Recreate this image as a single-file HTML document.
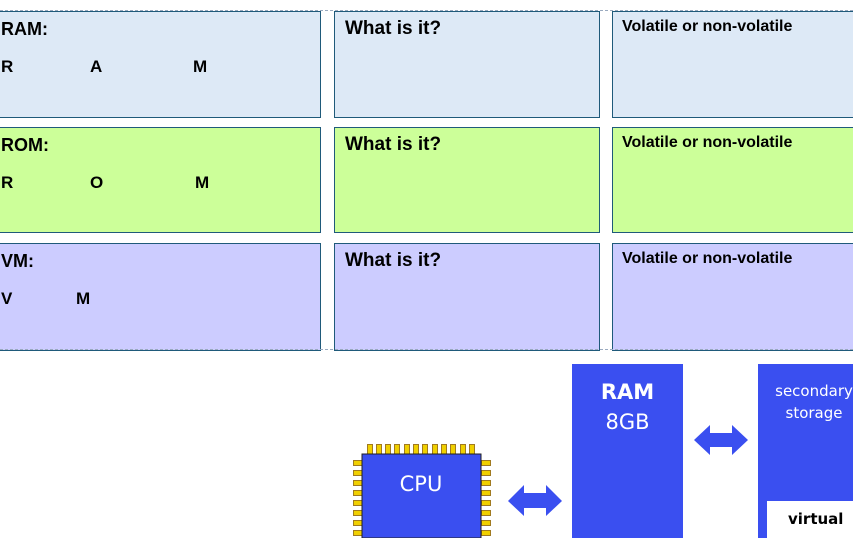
<!DOCTYPE html>
<html><head><meta charset="utf-8"><style>
html,body{margin:0;padding:0;width:853px;height:538px;overflow:hidden;background:#fff;position:relative;font-family:"Liberation Sans",sans-serif}
.b{position:absolute;box-sizing:border-box;border:1.5px solid #1f5a7a}
.t{position:absolute;font-weight:bold;color:#000;white-space:nowrap}
.blue{background:#dde9f6}.green{background:#ccff99}.lav{background:#ccccff}
.dash{position:absolute;left:0;width:853px;border-top:1.5px dashed #9aaabf}
.blk{position:absolute;background:#3a4ff0}
.w{position:absolute;color:#fff;text-align:center;font-family:"DejaVu Sans","Liberation Sans",sans-serif}
</style></head><body>
<div class="b blue" style="left:-2px;top:11px;width:323px;height:107px"></div>
<div class="b blue" style="left:334px;top:11px;width:266px;height:107px"></div>
<div class="b blue" style="left:612px;top:11px;width:250px;height:107px"></div>
<div class="b green" style="left:-2px;top:127px;width:323px;height:106px"></div>
<div class="b green" style="left:334px;top:127px;width:266px;height:106px"></div>
<div class="b green" style="left:612px;top:127px;width:250px;height:106px"></div>
<div class="b lav" style="left:-2px;top:243px;width:323px;height:108px"></div>
<div class="b lav" style="left:334px;top:243px;width:266px;height:108px"></div>
<div class="b lav" style="left:612px;top:243px;width:250px;height:108px"></div>
<div class="dash" style="top:10px"></div>
<div class="dash" style="top:349px"></div>

<div class="t" style="left:1px;top:19px;font-size:18px">RAM:</div>
<div class="t" style="left:1px;top:57px;font-size:17px">R</div>
<div class="t" style="left:90px;top:57px;font-size:17px">A</div>
<div class="t" style="left:193px;top:57px;font-size:17px">M</div>
<div class="t" style="left:1px;top:135px;font-size:18px">ROM:</div>
<div class="t" style="left:1px;top:173px;font-size:17px">R</div>
<div class="t" style="left:90px;top:173px;font-size:17px">O</div>
<div class="t" style="left:195px;top:173px;font-size:17px">M</div>
<div class="t" style="left:1px;top:251px;font-size:18px">VM:</div>
<div class="t" style="left:1px;top:289px;font-size:17px">V</div>
<div class="t" style="left:76px;top:289px;font-size:17px">M</div>

<div class="t" style="left:345px;top:18px;font-size:19px">What is it?</div>
<div class="t" style="left:345px;top:134px;font-size:19px">What is it?</div>
<div class="t" style="left:345px;top:250px;font-size:19px">What is it?</div>
<div class="t" style="left:622px;top:18px;font-size:16px">Volatile or non-volatile</div>
<div class="t" style="left:622px;top:134px;font-size:16px">Volatile or non-volatile</div>
<div class="t" style="left:622px;top:250px;font-size:16px">Volatile or non-volatile</div>

<div class="blk" style="left:572px;top:364px;width:111px;height:174px"></div>
<div class="w" style="left:572px;top:380px;width:111px;font-size:21px;font-weight:bold">RAM</div>
<div class="w" style="left:572px;top:410px;width:111px;font-size:21px">8GB</div>
<div class="blk" style="left:758px;top:364px;width:95px;height:174px"></div>
<div class="w" style="left:764px;top:380px;width:100px;font-size:15px;line-height:22px">secondary<br>storage</div>
<div style="position:absolute;left:767px;top:501px;width:86px;height:37px;background:#fff"></div>
<div class="t" style="left:788px;top:510px;font-size:15px;font-family:'DejaVu Sans',sans-serif">virtual</div>

<svg style="position:absolute;left:0;top:0" width="853" height="538">
<g fill="#f0d000" stroke="#a07a20" stroke-width="1">
<rect x="367.5" y="444.5" width="5" height="10"/><rect x="376.5" y="444.5" width="5" height="10"/><rect x="385.5" y="444.5" width="5" height="10"/><rect x="394.5" y="444.5" width="5" height="10"/><rect x="404.5" y="444.5" width="5" height="10"/><rect x="413.5" y="444.5" width="5" height="10"/><rect x="422.5" y="444.5" width="5" height="10"/><rect x="432.5" y="444.5" width="5" height="10"/><rect x="441.5" y="444.5" width="5" height="10"/><rect x="450.5" y="444.5" width="5" height="10"/><rect x="460.5" y="444.5" width="5" height="10"/><rect x="469.5" y="444.5" width="5" height="10"/>
<rect x="353.5" y="460.5" width="9" height="5"/><rect x="353.5" y="470.5" width="9" height="5"/><rect x="353.5" y="480.5" width="9" height="5"/><rect x="353.5" y="490.5" width="9" height="5"/><rect x="353.5" y="500.5" width="9" height="5"/><rect x="353.5" y="510.5" width="9" height="5"/><rect x="353.5" y="520.5" width="9" height="5"/><rect x="353.5" y="530.5" width="9" height="5"/>
<rect x="481.5" y="460.5" width="9" height="5"/><rect x="481.5" y="470.5" width="9" height="5"/><rect x="481.5" y="480.5" width="9" height="5"/><rect x="481.5" y="490.5" width="9" height="5"/><rect x="481.5" y="500.5" width="9" height="5"/><rect x="481.5" y="510.5" width="9" height="5"/><rect x="481.5" y="520.5" width="9" height="5"/><rect x="481.5" y="530.5" width="9" height="5"/>
</g>
<rect x="362" y="454" width="119" height="84" fill="#3a4ff0" stroke="#222" stroke-width="1"/>
<text x="421" y="491" fill="#fff" font-size="21" text-anchor="middle" font-family="DejaVu Sans, Liberation Sans, sans-serif">CPU</text>
<polygon fill="#3a4ff0" points="508,501 524,485 524,493 546,493 546,485 562,501 546,516 546,508 524,508 524,516"/>
<polygon fill="#3a4ff0" points="694,440 710,425 710,433 732,433 732,425 748,440 732,455 732,447 710,447 710,455"/>
</svg>
</body></html>
